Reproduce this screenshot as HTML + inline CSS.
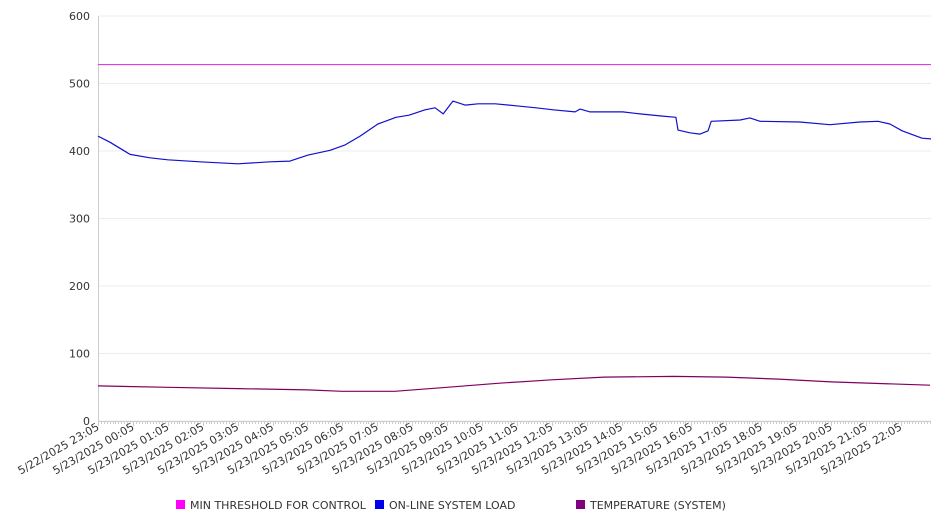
<!DOCTYPE html>
<html><head><meta charset="utf-8"><style>
body{margin:0;background:#fff;font-family:"DejaVu Sans","Liberation Sans",sans-serif;}
svg text{font-family:"DejaVu Sans","Liberation Sans",sans-serif;}
</style></head><body>
<svg id="chart" width="946" height="526" xmlns="http://www.w3.org/2000/svg"></svg>
<script>
const xLabels=["5/22/2025 23:05","5/23/2025 00:05","5/23/2025 01:05","5/23/2025 02:05","5/23/2025 03:05","5/23/2025 04:05","5/23/2025 05:05","5/23/2025 06:05","5/23/2025 07:05","5/23/2025 08:05","5/23/2025 09:05","5/23/2025 10:05","5/23/2025 11:05","5/23/2025 12:05","5/23/2025 13:05","5/23/2025 14:05","5/23/2025 15:05","5/23/2025 16:05","5/23/2025 17:05","5/23/2025 18:05","5/23/2025 19:05","5/23/2025 20:05","5/23/2025 21:05","5/23/2025 22:05"];
const yTicks=[0,100,200,300,400,500,600];
const loadHours=[0,0.34,0.92,1.49,2.0,2.92,4.01,4.93,5.5,6.02,6.65,7.08,7.51,8.02,8.54,8.91,9.37,9.66,9.89,10.17,10.52,10.89,11.38,11.98,12.55,13.04,13.67,13.81,14.1,15.04,15.53,16.1,16.56,16.62,16.96,17.25,17.48,17.57,18.4,18.68,18.97,20.11,20.97,21.83,22.35,22.69,23.04,23.61,24.0];
const loadValues=[422,413,395,390,387,384,381,384,385,394,401,409,422,440,450,453,461,464,455,474,468,470,470,467,464,461,458,462,458,458,455,452,450,431,427,425,430,444,446,449,444,443,439,443,444,440,430,419,418];
const tempHours=[0,2,4,6,7,8.5,10,11.5,13,14.5,16.5,18,19.5,21,23.84];
const tempValues=[52,50,48,46,44,44,50,56,61,65,66,65,62,58,53];
const thresholdValue=[528];
</script>
<script>
const NS="http://www.w3.org/2000/svg";
const svg=document.getElementById('chart');
const X0=98,X1=931,Y0=421,Y1=16,HW=34.9;
const xs=h=>Math.min(X1,X0+h*HW);
const ys=v=>Y0-(v/600)*(Y0-Y1);
function mk(tag,attrs,parent){const e=document.createElementNS(NS,tag);for(const k in attrs)e.setAttribute(k,attrs[k]);(parent||svg).appendChild(e);return e;}
yTicks.forEach(v=>{
  const g=mk('line',{x1:X0,x2:X1,y1:ys(v),y2:ys(v),stroke:'#ececec','stroke-width':1});
  
  
  const t=mk('text',{x:90,y:ys(v)+4,'text-anchor':'end','font-size':11,fill:'#333'});
  t.textContent=v;
  
  
});
const ax=mk('line',{x1:X0+0.5,x2:X0+0.5,y1:Y1,y2:Y0,stroke:'#ccc'});


const bx=mk('line',{x1:X0,x2:X1,y1:Y0+0.5,y2:Y0+0.5,stroke:'#ccc'});


for(let i=0;i*HW/12<=X1-X0;i++){
  const x=Math.round(X0+i*HW/12)+0.5;
  const mt=mk('line',{x1:x,x2:x,y1:Y0,y2:Y0+(i%12==0?5:3),stroke:'#ccc'});
  
  
}
xLabels.forEach((l,i)=>{
  const x=xs(i)+2,y=Y0+8;
  const t=mk('text',{x:x,y:y,'text-anchor':'end','font-size':11,fill:'#333',transform:`rotate(-30 ${x} ${y})`});
  t.textContent=l;
  
  
});
const th=mk('line',{x1:X0,x2:X1,y1:ys(thresholdValue[0]),y2:ys(thresholdValue[0]),stroke:'#e020e0','stroke-width':1});


function path(hs,vs,color,name){
  const d=hs.map((h,i)=>(i?'L':'M')+xs(h).toFixed(1)+' '+ys(vs[i]).toFixed(1)).join(' ');
  const p=mk('path',{d:d,fill:'none',stroke:color,'stroke-width':1.2,'stroke-linejoin':'round'});
  
  
}
path(loadHours,loadValues,'#1010d0','system-load-line');
path(tempHours,tempValues,'#800060','temperature-line');
const leg=[["MIN THRESHOLD FOR CONTROL","#ff00ff",176],["ON-LINE SYSTEM LOAD","#0000ee",375],["TEMPERATURE (SYSTEM)","#800080",576]];
leg.forEach(([l,c,x])=>{
  const r=mk('rect',{x:x,y:500,width:9,height:9,fill:c});
  
  
  const t=mk('text',{x:x+14,y:509,'font-size':11,fill:'#333'});
  t.textContent=l;
  
  
});
</script>
</body></html>
